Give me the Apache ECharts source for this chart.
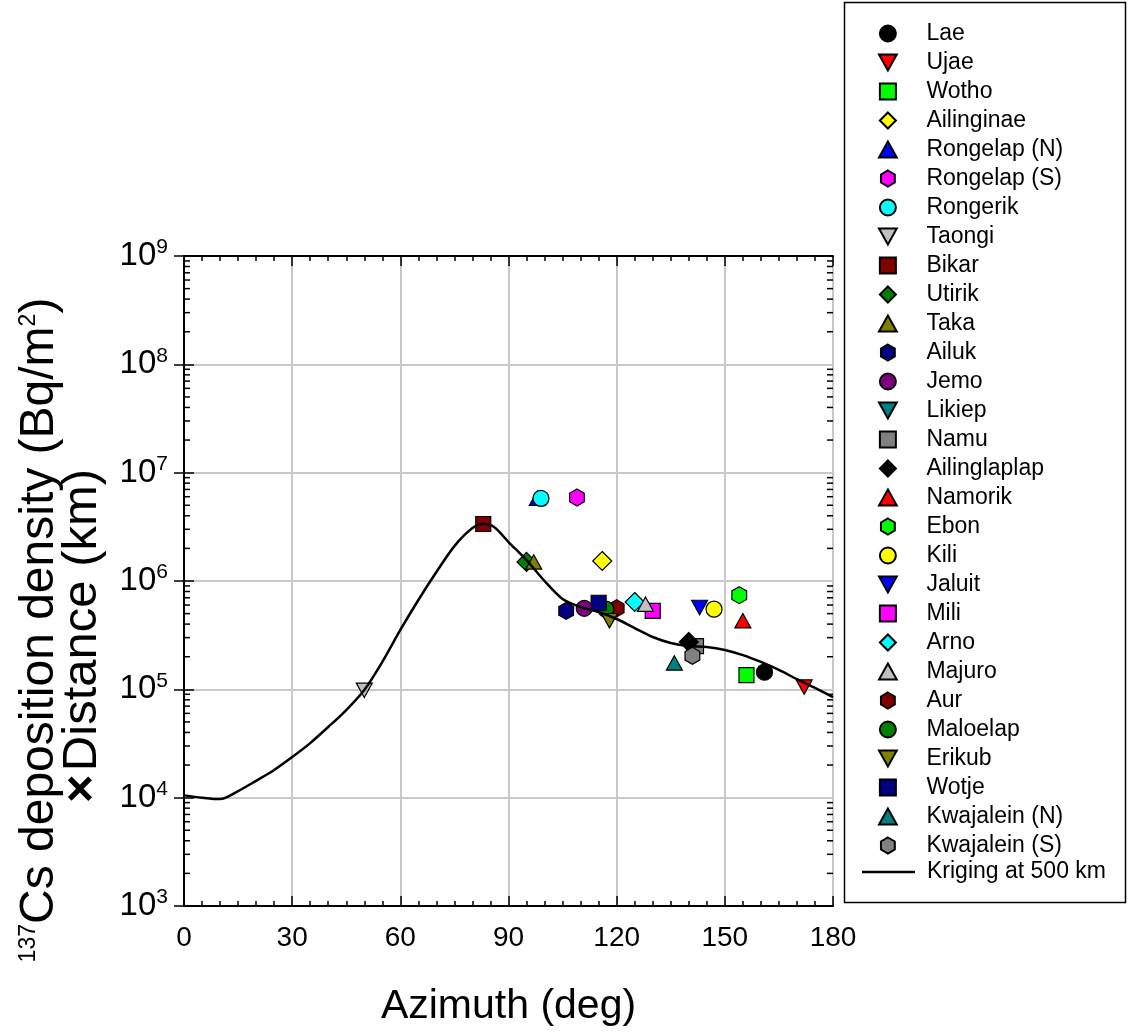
<!DOCTYPE html>
<html>
<head>
<meta charset="utf-8">
<script src="https://cdn.jsdelivr.net/npm/echarts@6/dist/echarts.min.js"></script>
<style>
html,body{margin:0;padding:0;background:#fff;}
#chart{width:1129px;height:1034px;}
</style>
</head>
<body>
<div id="chart"></div>
<script>
// ---- data ----
const siteNames = ['Lae','Ujae','Wotho','Ailinginae','Rongelap (N)','Rongelap (S)','Rongerik','Taongi','Bikar','Utirik','Taka','Ailuk','Jemo','Likiep','Namu','Ailinglaplap','Namorik','Ebon','Kili','Jaluit','Mili','Arno','Majuro','Aur','Maloelap','Erikub','Wotje','Kwajalein (N)','Kwajalein (S)'];
const siteAzimuth = [161,172,156,116,98,109,99,50,83,95,97,106,111,118,142,140,155,154,147,143,130,125,128,120,117,118,115,136,141];
const siteDensity = [1.44e5,1.05e5,1.35e5,1.53e6,5.8e6,5.9e6,5.8e6,9.8e4,3.36e6,1.5e6,1.5e6,5.3e5,5.6e5,5.0e5,2.5e5,2.74e5,4.3e5,7.4e5,5.5e5,5.7e5,5.3e5,6.4e5,6.1e5,5.6e5,5.5e5,4.3e5,6.3e5,1.75e5,2.04e5];
const siteShapes = ['circle','down','square','diamond','up','hex','circle','down','square','diamond','up','hex','circle','down','square','diamond','up','hex','circle','down','square','diamond','up','hex','circle','down','square','up','hex'];
const siteColors = ['#000000','#ff0000','#00ff00','#ffff00','#0000ff','#ff00ff','#00ffff','#c0c0c0','#800000','#008000','#808000','#000080','#800080','#008080','#808080','#000000','#ff0000','#00ff00','#ffff00','#0000ff','#ff00ff','#00ffff','#c0c0c0','#800000','#008000','#808000','#000080','#008080','#808080'];
const krigingName = 'Kriging at 500 km';
const krigingAzimuth = [0,5,10,15,20,25,30,35,40,45,50,55,60,65,70,75,80,83,86,90,95,100,105,110,115,120,125,130,135,140,145,150,155,160,165,170,175,180];
const krigingValues = [1.05e4,1.0e4,9.7e3,1.15e4,1.43e4,1.80e4,2.37e4,3.19e4,4.49e4,6.44e4,9.86e4,1.79e5,3.53e5,6.68e5,1.21e6,2.10e6,3.08e6,3.36e6,3.15e6,2.29e6,1.56e6,1.0e6,6.82e5,5.75e5,5.17e5,4.46e5,3.68e5,3.04e5,2.68e5,2.51e5,2.46e5,2.31e5,2.07e5,1.79e5,1.51e5,1.24e5,1.03e5,8.49e4];
const xTicks = [0,30,60,90,120,150,180];
const yExponents = [3,4,5,6,7,8,9];

// ---- symbols ----
const SYM = {
  circle: 'circle',
  down: 'path://M0,0 L2,0 L1,1.8 Z',
  square: 'path://M0,0 L1,0 L1,1 L0,1 Z',
  diamond: 'path://M1,0 L2,1 L1,2 L0,1 Z',
  up: 'path://M1,0 L2,1.8 L0,1.8 Z',
  hex: 'path://M0.866,0 L1.732,0.5 L1.732,1.5 L0.866,2 L0,1.5 L0,0.5 Z'
};
const shapeSize = {circle:16, down:16, square:15, diamond:19, up:16, hex:17};

const FONT = 'Liberation Sans, Arial, sans-serif';
const G = {left:184, top:256, width:649, height:650};

const series = siteNames.map((n,i)=>{
  const sh = siteShapes[i];
  return {
    name: n, type:'scatter',
    symbol: SYM[sh], symbolSize: shapeSize[sh], symbolKeepAspect: true,
    itemStyle:{color: siteColors[i], borderColor:'#000', borderWidth:1.2, opacity:1},
    data:[[siteAzimuth[i], siteDensity[i]]],
    z: 2
  };
});
series.push({
  name: krigingName, type:'line', smooth:0.3, symbol:'none', showSymbol:false,
  lineStyle:{color:'#000', width:2.5}, itemStyle:{color:'#000'},
  data: krigingAzimuth.map((a,i)=>[a, krigingValues[i]]), z: 5
});

const chart = echarts.init(document.getElementById('chart'), null, {renderer:'canvas'});
const option = {
  animation:false,
  backgroundColor:'#fff',
  textStyle:{fontFamily:FONT},
  grid:{left:G.left, top:G.top, width:G.width, height:G.height, containLabel:false},
  legend:{
    orient:'vertical', left:878, top:22, padding:0,
    itemWidth:53, itemHeight:16, itemGap:6,
    textStyle:{fontFamily:FONT, fontSize:23, color:'#000', lineHeight:22, padding:[0,0,0,7]},
    data: siteNames.slice()
  },
  xAxis:[{
    type:'value', min:0, max:180, interval:30,
    axisLine:{show:true, lineStyle:{color:'#000', width:2}},
    axisTick:{show:true, inside:true, length:10, lineStyle:{color:'#000', width:1.5}},
    minorTick:{show:true, splitNumber:6, length:5, lineStyle:{color:'#000', width:1.5}},
    axisLabel:{show:true, fontSize:28, color:'#000', margin:18, fontFamily:FONT},
    splitLine:{show:true, lineStyle:{color:'#c8c8c8', width:2}},
    name:'Azimuth (deg)', nameLocation:'middle', nameGap:80,
    nameTextStyle:{fontSize:41, color:'#000', fontFamily:FONT}
  },{
    type:'value', min:0, max:180, interval:30, position:'top',
    axisLine:{show:true, lineStyle:{color:'#000', width:2}},
    axisTick:{show:true, inside:true, length:10, lineStyle:{color:'#000', width:1.5}},
    minorTick:{show:true, splitNumber:6, length:5, lineStyle:{color:'#000', width:1.5}},
    axisLabel:{show:false}, splitLine:{show:false}
  }],
  yAxis:[{
    type:'log', logBase:10, min:1e3, max:1e9, interval:1,
    axisLine:{show:true, lineStyle:{color:'#000', width:2}},
    axisTick:{show:true, inside:true, length:10, lineStyle:{color:'#000', width:1.5}},
    axisLabel:{show:true, margin:16, color:'#000', fontFamily:FONT,
      formatter:(v)=>'{b|10}{s|' + Math.round(Math.log10(v)) + '}',
      rich:{b:{fontSize:33, color:'#000', fontFamily:FONT}, s:{fontSize:21, color:'#000', fontFamily:FONT, padding:[0,0,17,0]}}
    },
    splitLine:{show:true, lineStyle:{color:'#c8c8c8', width:2}}
  },{
    type:'log', logBase:10, min:1e3, max:1e9, interval:1, position:'right',
    axisLine:{show:true, lineStyle:{color:'#000', width:2}},
    axisTick:{show:true, inside:true, length:10, lineStyle:{color:'#000', width:1.5}},
    axisLabel:{show:false}, splitLine:{show:false}
  }],
  series: series
};
chart.setOption(option);

function addExtras(){
  const els = [];
  // log minor ticks positioned through the axis scale
  for (let e = 3; e < 9; e++){
    for (let k = 2; k <= 9; k++){
      const v = k * Math.pow(10, e);
      const y = chart.convertToPixel({yAxisIndex:0}, v);
      els.push({type:'line', shape:{x1:G.left, y1:y, x2:G.left+6, y2:y}, style:{stroke:'#000', lineWidth:1.5}, z:10});
      els.push({type:'line', shape:{x1:G.left+G.width, y1:y, x2:G.left+G.width-6, y2:y}, style:{stroke:'#000', lineWidth:1.5}, z:10});
    }
  }
  // legend frame
  els.push({type:'rect', shape:{x:844.5, y:2.5, width:281, height:900}, style:{fill:null, stroke:'#000', lineWidth:1.5}, z:0});
  // legend entry for the kriging line
  els.push({type:'line', shape:{x1:862, y1:872, x2:915, y2:872}, style:{stroke:'#000', lineWidth:2.5}, z:10});
  els.push({type:'text', x:927, y:872, style:{text:krigingName, fontSize:23, fontFamily:FONT, fill:'#000', verticalAlign:'middle', align:'left'}, z:10});
  // y-axis title
  els.push({type:'text', x:40, y:630, rotation:Math.PI/2,
    style:{text:'{s|137}{t|Cs deposition density (Bq/m}{s|2}{t|)}', align:'center', verticalAlign:'middle',
      rich:{t:{fontSize:48, fontFamily:FONT, fill:'#000'}, s:{fontSize:23, fontFamily:FONT, fill:'#000', padding:[0,0,22,0]}}}});
  els.push({type:'text', x:82, y:636, rotation:Math.PI/2,
    style:{text:'{x|×} {t|Distance (km)}', align:'center', verticalAlign:'middle',
      rich:{t:{fontSize:49, fontFamily:FONT, fill:'#000'}, x:{fontSize:49, fontWeight:'bold', fontFamily:FONT, fill:'#000'}}}});
  chart.setOption({graphic:{elements:els}});
}
addExtras();
</script>
</body>
</html>
